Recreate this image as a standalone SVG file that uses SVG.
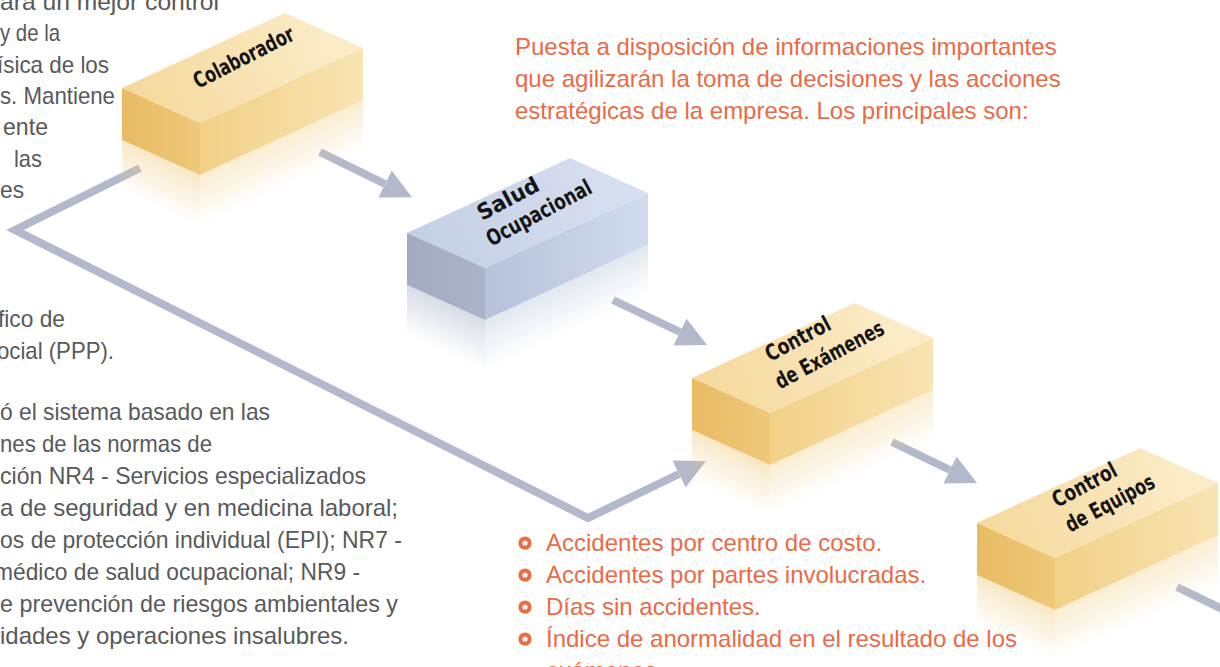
<svg xmlns="http://www.w3.org/2000/svg" width="1220" height="667" viewBox="0 0 1220 667">
<defs>
<style>
.g{font-family:"Liberation Sans",Arial,sans-serif;font-size:24px;fill:#58595b}
.o{font-family:"Liberation Sans",Arial,sans-serif;font-size:24px;fill:#ea6a45}
.lbl{font-family:"Liberation Sans Narrow","DejaVu Sans Condensed","Liberation Sans",sans-serif;font-weight:bold;font-size:22px;fill:#141414}
.conn{fill:none;stroke:#b3b9ca;stroke-width:8;stroke-linejoin:miter}
.bul{fill:#fff;stroke:#ea6a45;stroke-width:4}
</style>
<marker id="head" markerUnits="userSpaceOnUse" viewBox="0 0 30 30" markerWidth="30" markerHeight="30" refX="0" refY="15" orient="auto">
<path d="M0,0 L30,15 L0,30 Z" fill="#b3b9ca"/>
</marker>
<linearGradient id="tTop" gradientUnits="userSpaceOnUse" x1="0" y1="20" x2="200" y2="-60">
<stop offset="0" stop-color="#f5d799"/><stop offset="1" stop-color="#fbebc6"/></linearGradient>
<linearGradient id="tLeft" gradientUnits="userSpaceOnUse" x1="0" y1="0" x2="78" y2="0">
<stop offset="0" stop-color="#e8bb64"/><stop offset="1" stop-color="#efc879"/></linearGradient>
<linearGradient id="tLong" gradientUnits="userSpaceOnUse" x1="78" y1="0" x2="241" y2="0">
<stop offset="0" stop-color="#f2d187"/><stop offset="1" stop-color="#f8e3b2"/></linearGradient>
<linearGradient id="tRefL" gradientUnits="userSpaceOnUse" x1="0" y1="52" x2="0" y2="102" gradientTransform="skewY(24.2)">
<stop offset="0" stop-color="#f0cb80" stop-opacity="0.45"/><stop offset="1" stop-color="#f0cb80" stop-opacity="0"/></linearGradient>
<linearGradient id="tRefR" gradientUnits="userSpaceOnUse" x1="0" y1="123" x2="0" y2="173" gradientTransform="skewY(-24.7)">
<stop offset="0" stop-color="#f4d898" stop-opacity="0.45"/><stop offset="1" stop-color="#f4d898" stop-opacity="0"/></linearGradient>
<linearGradient id="bTop" gradientUnits="userSpaceOnUse" x1="0" y1="20" x2="200" y2="-60">
<stop offset="0" stop-color="#c2cee3"/><stop offset="1" stop-color="#d6dff0"/></linearGradient>
<linearGradient id="bLeft" gradientUnits="userSpaceOnUse" x1="0" y1="0" x2="78" y2="0">
<stop offset="0" stop-color="#a2abc1"/><stop offset="1" stop-color="#aab3c8"/></linearGradient>
<linearGradient id="bLong" gradientUnits="userSpaceOnUse" x1="78" y1="0" x2="241" y2="0">
<stop offset="0" stop-color="#b5c2da"/><stop offset="1" stop-color="#d2dcee"/></linearGradient>
<linearGradient id="bRefL" gradientUnits="userSpaceOnUse" x1="0" y1="52" x2="0" y2="102" gradientTransform="skewY(24.2)">
<stop offset="0" stop-color="#a9b2c7" stop-opacity="0.45"/><stop offset="1" stop-color="#a9b2c7" stop-opacity="0"/></linearGradient>
<linearGradient id="bRefR" gradientUnits="userSpaceOnUse" x1="0" y1="123" x2="0" y2="173" gradientTransform="skewY(-24.7)">
<stop offset="0" stop-color="#c0cce0" stop-opacity="0.45"/><stop offset="1" stop-color="#c0cce0" stop-opacity="0"/></linearGradient>
<g id="boxTan">
<path d="M0,52 L78,87 L78,137 L0,102 Z" fill="url(#tRefL)"/>
<path d="M78,87 L241,12 L241,62 L78,137 Z" fill="url(#tRefR)"/>
<path d="M0,0 L78,35 L241,-40 L163,-75 Z" fill="url(#tTop)"/>
<path d="M0,0 L78,35 L78,87 L0,52 Z" fill="url(#tLeft)"/>
<path d="M78,35 L241,-40 L241,12 L78,87 Z" fill="url(#tLong)"/>
</g>
<g id="boxBlue">
<path d="M0,52 L78,87 L78,137 L0,102 Z" fill="url(#bRefL)"/>
<path d="M78,87 L241,12 L241,62 L78,137 Z" fill="url(#bRefR)"/>
<path d="M0,0 L78,35 L241,-40 L163,-75 Z" fill="url(#bTop)"/>
<path d="M0,0 L78,35 L78,87 L0,52 Z" fill="url(#bLeft)"/>
<path d="M78,35 L241,-40 L241,12 L78,87 Z" fill="url(#bLong)"/>
</g>
</defs>
<rect width="1220" height="667" fill="#ffffff"/>

<g id="connectors">
<path class="conn" d="M320,152 L385,184" marker-end="url(#head)"/>
<path class="conn" d="M613,300 L680,332" marker-end="url(#head)"/>
<path class="conn" d="M892,442 L950,470" marker-end="url(#head)"/>
<path class="conn" d="M1177,587 L1226,611"/>
<path class="conn" d="M140,168 L15,230 L588,518 L679,474" marker-end="url(#head)"/>
</g>

<g id="colaborador">
<use href="#boxTan" x="122" y="88"/>
<text class="lbl" transform="translate(198,89) rotate(-27)" textLength="110" lengthAdjust="spacingAndGlyphs">Colaborador</text>
</g>
<g id="salud-ocupacional">
<use href="#boxBlue" x="407" y="233"/>
<text class="lbl" transform="translate(482,221) rotate(-28)"><tspan x="0" y="0" textLength="67" lengthAdjust="spacingAndGlyphs">Salud</tspan><tspan x="-4" y="27" textLength="116" lengthAdjust="spacingAndGlyphs">Ocupacional</tspan></text>
</g>
<g id="control-examenes">
<use href="#boxTan" x="692" y="378"/>
<text class="lbl" transform="translate(770,362) rotate(-28)"><tspan x="0" y="0" textLength="71" lengthAdjust="spacingAndGlyphs">Control</tspan><tspan x="-4" y="29" textLength="120" lengthAdjust="spacingAndGlyphs">de Exámenes</tspan></text>
</g>
<g id="control-equipos">
<use href="#boxTan" x="977" y="523"/>
<text class="lbl" transform="translate(1057,508) rotate(-28)"><tspan x="0" y="0" textLength="70" lengthAdjust="spacingAndGlyphs">Control</tspan><tspan x="0" y="28" textLength="98" lengthAdjust="spacingAndGlyphs">de Equipos</tspan></text>
</g>

<g id="texto-izquierda-superior" class="g">
<text x="0" y="10" textLength="219" lengthAdjust="spacingAndGlyphs">ara un mejor control</text>
<text x="0" y="41" textLength="60" lengthAdjust="spacingAndGlyphs">y de la</text>
<text x="-3" y="73" textLength="112" lengthAdjust="spacingAndGlyphs">ísica de los</text>
<text x="0" y="104" textLength="115" lengthAdjust="spacingAndGlyphs">s. Mantiene</text>
<text x="3" y="135" textLength="45" lengthAdjust="spacingAndGlyphs">ente</text>
<text x="14" y="167" textLength="28" lengthAdjust="spacingAndGlyphs">las</text>
<text x="0" y="198" textLength="24" lengthAdjust="spacingAndGlyphs">es</text>
</g>

<g id="texto-izquierda-inferior" class="g">
<text x="-2" y="327" textLength="67" lengthAdjust="spacingAndGlyphs">fico de</text>
<text x="-3" y="359" textLength="117" lengthAdjust="spacingAndGlyphs">ocial (PPP).</text>
<text x="0" y="420" textLength="270" lengthAdjust="spacingAndGlyphs">ó el sistema basado en las</text>
<text x="0" y="452" textLength="212" lengthAdjust="spacingAndGlyphs">nes de las normas de</text>
<text x="0" y="484" textLength="366" lengthAdjust="spacingAndGlyphs">ción NR4 - Servicios especializados</text>
<text x="0" y="516" textLength="398" lengthAdjust="spacingAndGlyphs">a de seguridad y en medicina laboral;</text>
<text x="0" y="548" textLength="402" lengthAdjust="spacingAndGlyphs">os de protección individual (EPI); NR7 -</text>
<text x="-6" y="580" textLength="366" lengthAdjust="spacingAndGlyphs">médico de salud ocupacional; NR9 -</text>
<text x="0" y="612" textLength="398" lengthAdjust="spacingAndGlyphs">e prevención de riesgos ambientales y</text>
<text x="0" y="644" textLength="349" lengthAdjust="spacingAndGlyphs">idades y operaciones insalubres.</text>
</g>

<g id="texto-derecha" class="o">
<text x="515" y="55">Puesta a disposición de informaciones importantes</text>
<text x="515" y="87">que agilizarán la toma de decisiones y las acciones</text>
<text x="515" y="119">estratégicas de la empresa. Los principales son:</text>
</g>

<g id="lista">
<circle class="bul" cx="525" cy="543" r="4.6"/>
<circle class="bul" cx="525" cy="575" r="4.6"/>
<circle class="bul" cx="525" cy="607" r="4.6"/>
<circle class="bul" cx="525" cy="639" r="4.6"/>
<g class="o">
<text x="546" y="551">Accidentes por centro de costo.</text>
<text x="546" y="583">Accidentes por partes involucradas.</text>
<text x="546" y="615">Días sin accidentes.</text>
<text x="546" y="647">Índice de anormalidad en el resultado de los</text>
<text x="546" y="679">exámenes.</text>
</g>
</g>
</svg>
